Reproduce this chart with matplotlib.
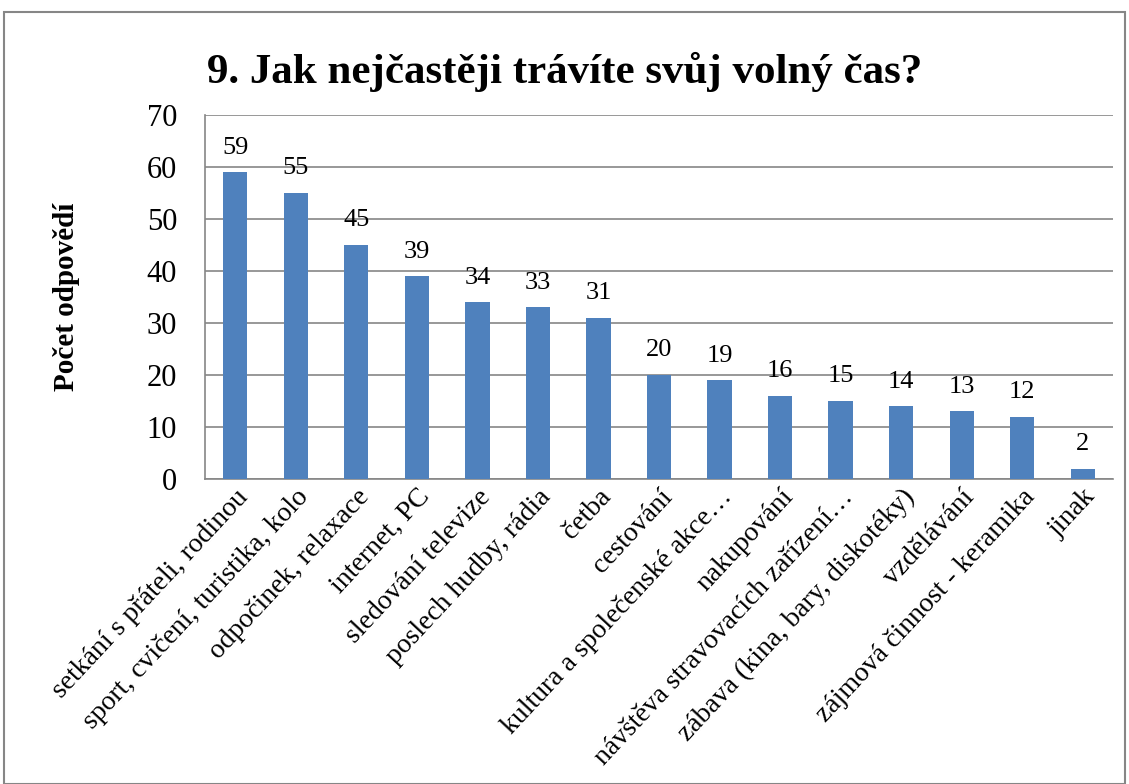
import matplotlib.pyplot as plt

categories = ["setkání s přáteli, rodinou", "sport, cvičení, turistika, kolo",
              "odpočinek, relaxace", "internet, PC", "sledování televize",
              "poslech hudby, rádia", "četba", "cestování",
              "kultura a společenské akce…", "nakupování",
              "návštěva stravovacích zařízení…", "zábava (kina, bary, diskotéky)",
              "vzdělávání", "zájmová činnost - keramika", "jinak"]
values = [59, 55, 45, 39, 34, 33, 31, 20, 19, 16, 15, 14, 13, 12, 2]

plt.rcParams['font.family'] = ['Liberation Serif', 'DejaVu Serif']

fig = plt.figure(figsize=(11.29, 7.84), dpi=100)
ax = fig.add_axes([205 / 1129, 1 - 479 / 784, (1113 - 205) / 1129, (479 - 115) / 784])

x = range(len(categories))
bars = ax.bar(x, values, width=0.4, color="#4F81BD", zorder=3)
for b, v in zip(bars, values):
    ax.text(b.get_x() + b.get_width() / 2, v + 2.6, str(v), ha="center", va="bottom", fontsize=19)

ax.set_xlim(-0.5, len(categories) - 0.5)
ax.set_ylim(0, 70)
ax.set_yticks(range(0, 71, 10))
ax.tick_params(axis="y", labelsize=22, length=0, pad=20)
ax.tick_params(axis="x", length=0, pad=4)
ax.set_xticks(list(x))
ax.set_xticklabels(categories, rotation=47, ha="right", rotation_mode="anchor", fontsize=20)
ax.grid(axis="y", color="#868686", linewidth=1.2, zorder=0)
for s in ["top", "right"]:
    ax.spines[s].set_visible(False)
for s in ["left", "bottom"]:
    ax.spines[s].set_color("#868686")
    ax.spines[s].set_linewidth(1.2)

ax.set_ylabel("Počet odpovědí", fontsize=21, fontweight="bold", labelpad=48)
fig.text(0.5, 1 - 72 / 784, "9. Jak nejčastěji trávíte svůj volný čas?",
         ha="center", va="center", fontsize=31, fontweight="bold")

border = plt.Rectangle((4 / 1129, 0), 1 - 8 / 1129, 1 - 12 / 784, transform=fig.transFigure,
                       fill=False, edgecolor="#868686", linewidth=1.5)
fig.patches.append(border)

fig.savefig("out.png", dpi=100)
